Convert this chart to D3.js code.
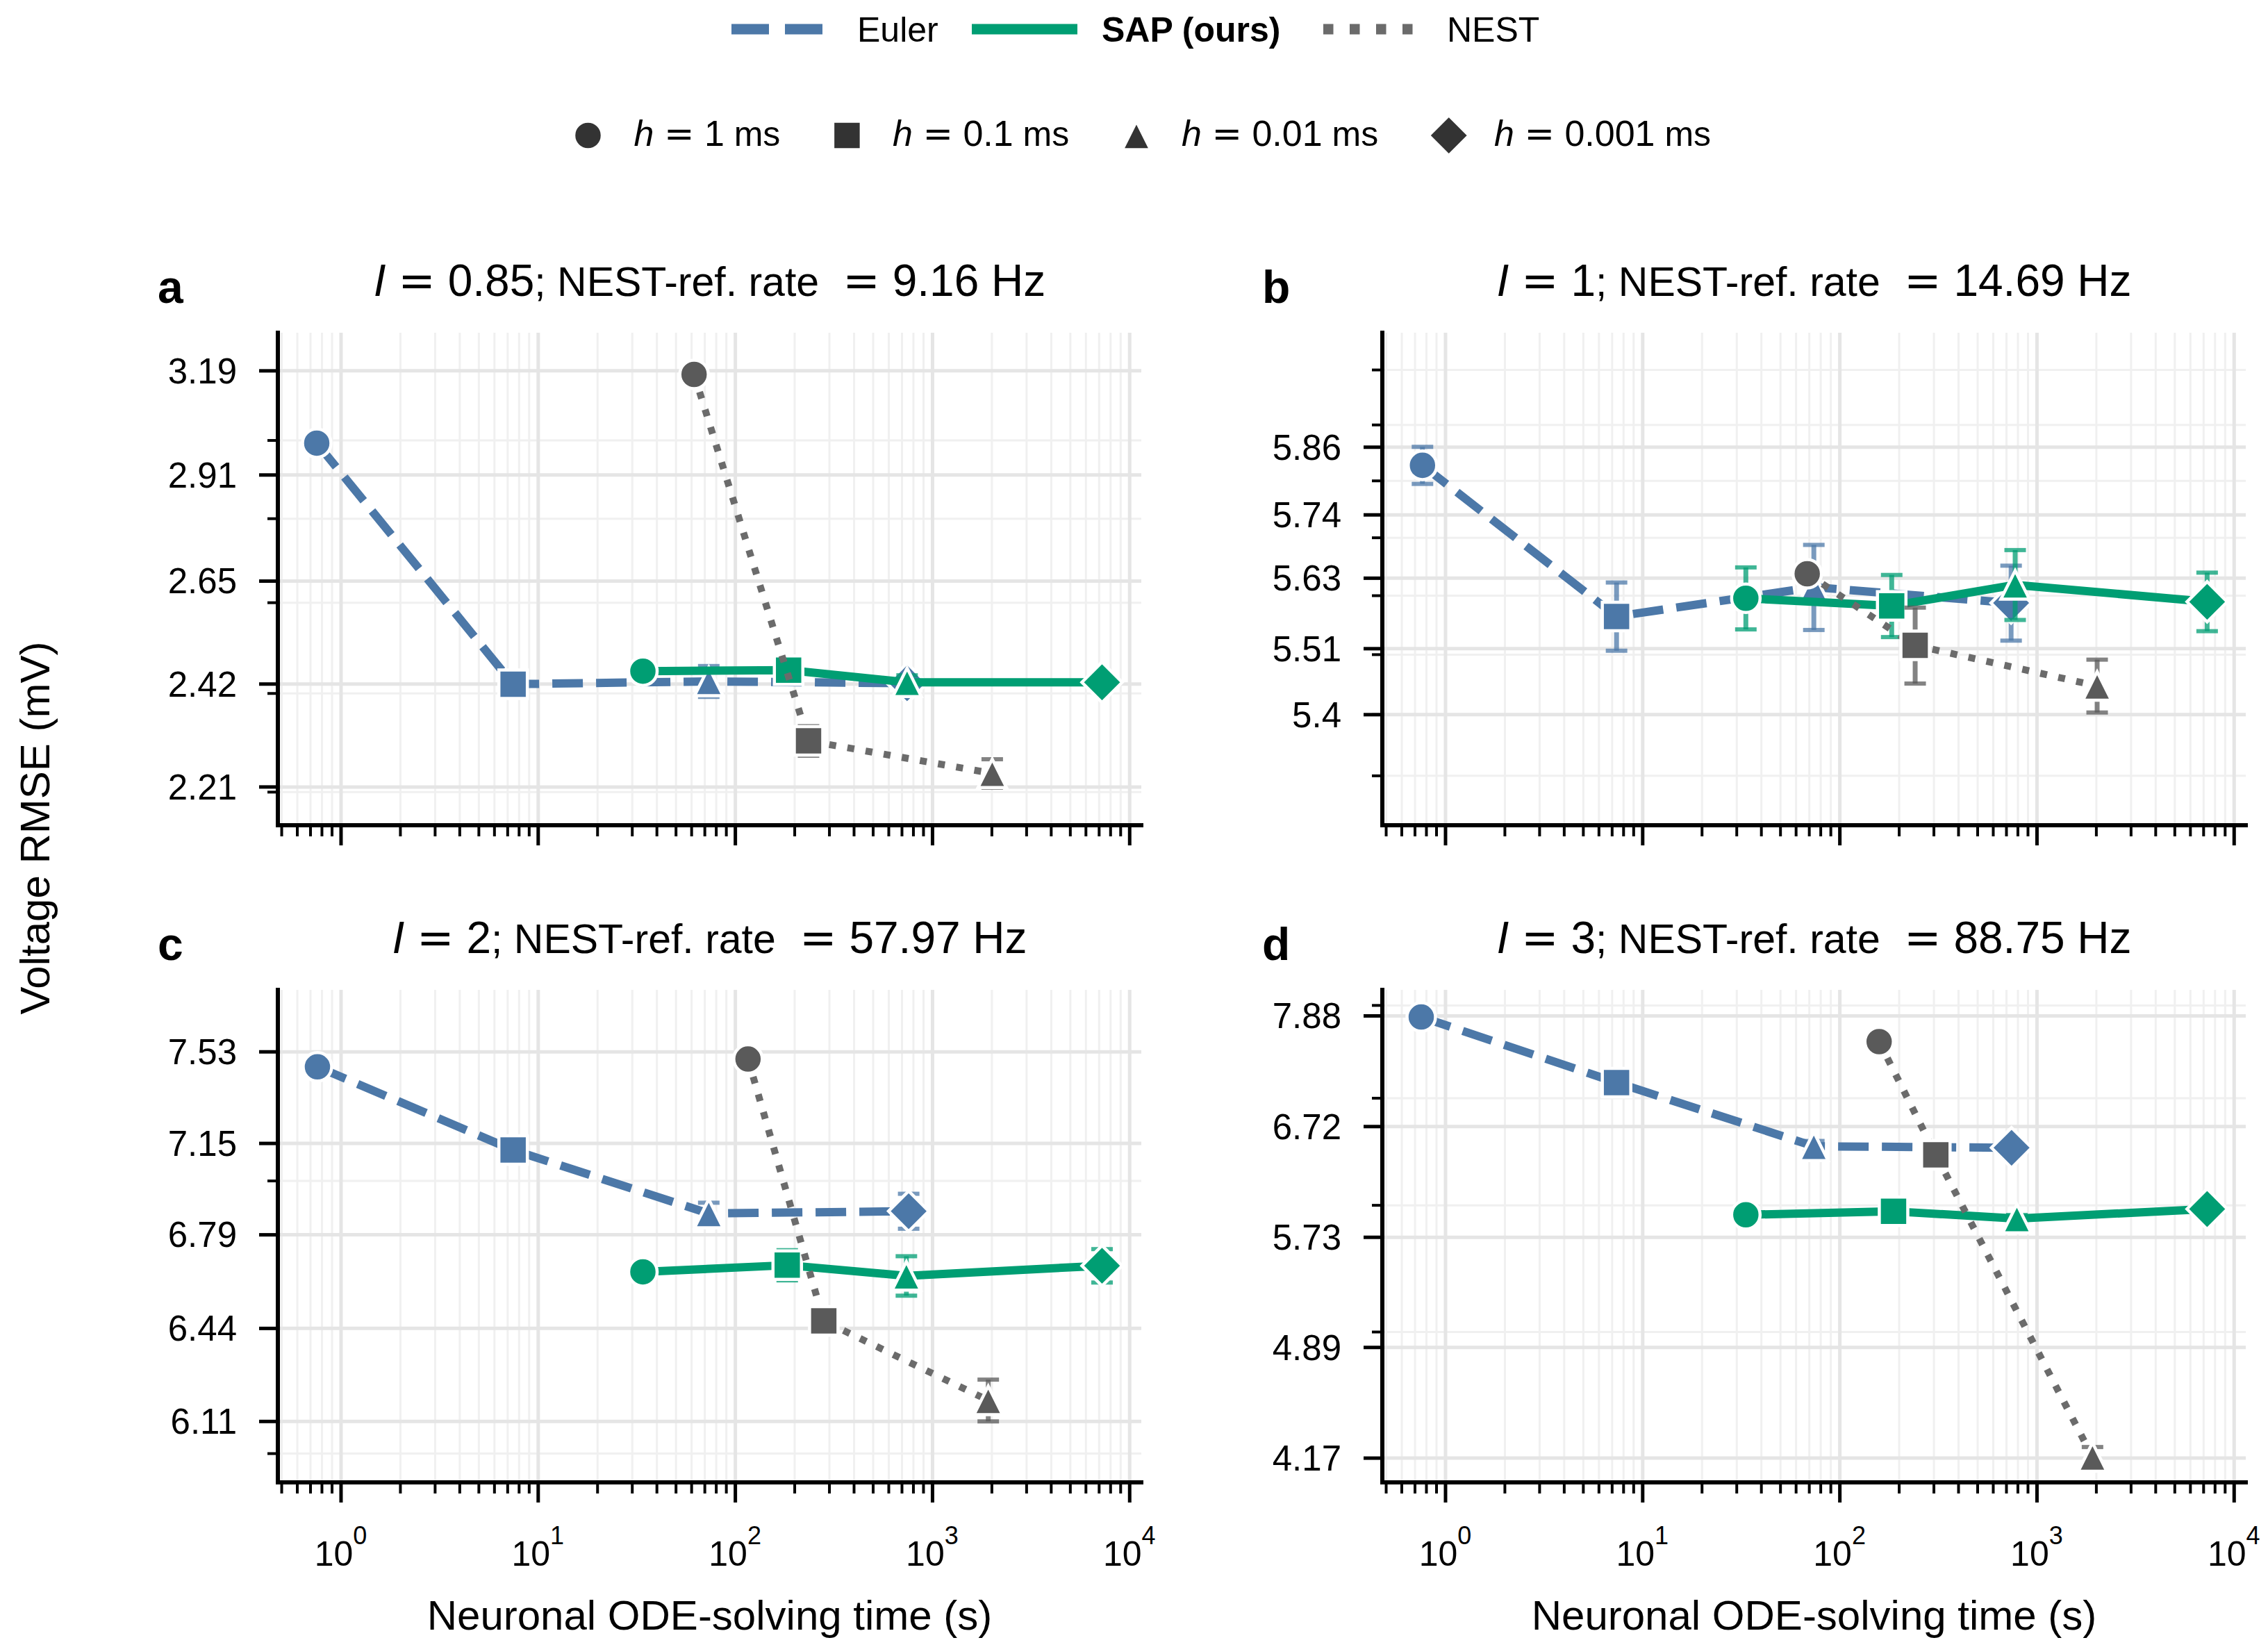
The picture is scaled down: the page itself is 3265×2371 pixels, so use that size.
<!DOCTYPE html>
<html lang="en">
<head>
<meta charset="UTF-8">
<title>Voltage RMSE vs neuronal ODE-solving time</title>
<script src="https://d3js.org/d3.v7.min.js"></script>
<style>
  html, body { margin: 0; padding: 0; background: #fff; }
  svg { display: block; background: #fff; }
  text { font-family: "Liberation Sans", Arial, sans-serif; fill: #000; }
  .grid path, .axis path { display: none; }
  .grid.major line { stroke: #e5e5e5; stroke-width: 5; }
  .grid.minor line { stroke: #f0f0f0; stroke-width: 3; }
  .axis line { stroke: #000; }
</style>
</head>
<body>
<div id="chart"></div>
<script>
// ---- values ----
const panelLetters = ["a", "b", "c", "d"];
const inputCurrents = ["0.85", "1", "2", "3"];
const nestRefRates = ["9.16", "14.69", "57.97", "88.75"];
const methodNames = ["Euler", "SAP (ours)", "NEST"];
const stepSizes = ["1", "0.1", "0.01", "0.001"];

// rows: Euler, SAP, NEST ; columns: h = 1, 0.1, 0.01, 0.001 ms
const timeA = [[0.756, 7.49, 73.6, 746], [34.1, 187, 746, 7271], [62.0, 236, 2017]];
const rmseA = [[2.992, 2.419, 2.425, 2.421], [2.447, 2.449, 2.423, 2.423], [3.179, 2.301, 2.236]];
const errA  = [[0.01, 0.01, 0.033, 0.02], [0.005, 0.01, 0.015, 0.01], [0, 0.03, 0.028]];

const timeB = [[0.767, 7.40, 74.1, 742], [33.5, 184, 778, 7324], [68.6, 242, 2027]];
const rmseB = [[5.827, 5.564, 5.614, 5.587], [5.595, 5.582, 5.618, 5.589], [5.637, 5.515, 5.447]];
const errB  = [[0.033, 0.058, 0.073, 0.064], [0.053, 0.053, 0.060, 0.050], [0, 0.064, 0.044]];

const timeC = [[0.762, 7.49, 73.6, 760], [34.1, 184, 740, 7271], [116.4, 282, 1925]];
const rmseC = [[7.465, 7.122, 6.871, 6.880], [6.648, 6.673, 6.633, 6.671], [7.498, 6.466, 6.182]];
const errC  = [[0.03, 0.02, 0.042, 0.068], [0.02, 0.057, 0.074, 0.063], [0, 0.02, 0.073]];

const timeD = [[0.756, 7.40, 74.1, 746], [33.5, 188, 794, 7324], [158.9, 308, 1920]];
const rmseD = [[7.864, 7.156, 6.529, 6.515], [5.916, 5.945, 5.884, 5.965], [7.590, 6.449, 4.175]];
const errD  = [[0.02, 0.02, 0.05, 0.04], [0.02, 0.03, 0.03, 0.02], [0, 0.02, 0.06]];

// axis ticks and limits
const xLim = [0.48, 11500];
const xMajor = [1, 10, 100, 1000, 10000];
const yTicksA = [2.21, 2.42, 2.65, 2.91, 3.19];
const yTicksB = [5.4, 5.51, 5.63, 5.74, 5.86];
const yTicksC = [6.11, 6.44, 6.79, 7.15, 7.53];
const yTicksD = [4.17, 4.89, 5.73, 6.72, 7.88];
const yMinorA = [2.2, 2.4, 2.6, 2.8, 3.0];
const yMinorB = [5.3, 5.4, 5.5, 5.6, 5.7, 5.8, 5.9, 6.0];
const yMinorC = [6, 7];
const yMinorD = [5, 6, 7, 8];
const yLimA = [2.136, 3.298];
const yLimB = [5.220, 6.068];
const yLimC = [5.902, 7.797];
const yLimD = [4.025, 8.177];

// ---- layout ----
const W = 3265, H = 2371;
const pw = 1243, ph = 709;
const origins = [[400, 479], [1990, 479], [400, 1425], [1990, 1425]];
const colors = ["#4c78a8", "#009e73", "#5a5a5a"];
const lineColors = ["#4c78a8", "#009e73", "#6b6b6b"];
const dashes = ["44,19", null, "10,16.5"];
const lineWidths = [12, 12, 10];
const ms = 41;

const panels = [0, 1, 2, 3].map(i => ({
  letter: panelLetters[i],
  current: inputCurrents[i],
  rate: nestRefRates[i],
  time: [timeA, timeB, timeC, timeD][i],
  rmse: [rmseA, rmseB, rmseC, rmseD][i],
  err: [errA, errB, errC, errD][i],
  yTicks: [yTicksA, yTicksB, yTicksC, yTicksD][i],
  yMinor: [yMinorA, yMinorB, yMinorC, yMinorD][i],
  yLim: [yLimA, yLimB, yLimC, yLimD][i],
  origin: origins[i],
  xLabels: i >= 2
}));

const xMinor = [];
for (let e = -1; e <= 4; e++) {
  for (let k = 2; k <= 9; k++) {
    const v = k * Math.pow(10, e);
    if (v >= xLim[0] && v <= xLim[1]) xMinor.push(v);
  }
}

// matplotlib-like marker shapes: o, s, ^, D
function markerPath(k, s) {
  const r = s / 2;
  if (k === 0) return `M${r},0A${r},${r},0,1,1,${-r},0A${r},${r},0,1,1,${r},0Z`;
  if (k === 1) return `M${-r},${-r}H${r}V${r}H${-r}Z`;
  if (k === 2) return `M0,${-r}L${r},${r}L${-r},${r}Z`;
  const d = s / Math.SQRT2;
  return `M0,${-d}L${d},0L0,${d}L${-d},0Z`;
}

// text from pieces: mi = math italic, m = math, eq = math symbol, t = plain
function richText(sel, parts, mathSize) {
  parts.forEach(([str, kind]) => {
    const ts = sel.append("tspan").text(str);
    if (kind !== "t") ts.attr("font-size", mathSize);
    if (kind === "mi") ts.attr("font-style", "italic");
    if (kind === "eq") ts.attr("font-family", "DejaVu Sans");
  });
}

const svg = d3.select("#chart").append("svg")
  .attr("width", W)
  .attr("height", H);

panels.forEach(p => {
  const [ox, oy] = p.origin;
  const x = d3.scaleLog().domain(xLim).range([0, pw]);
  const y = d3.scaleLog().domain(p.yLim).range([ph, 0]);
  const g = svg.append("g").attr("transform", `translate(${ox},${oy})`);

  // grid
  g.append("g").attr("class", "grid minor").attr("transform", `translate(0,${ph})`)
    .call(d3.axisBottom(x).tickValues(xMinor).tickSize(-ph).tickFormat(""));
  g.append("g").attr("class", "grid minor")
    .call(d3.axisLeft(y).tickValues(p.yMinor).tickSize(-pw).tickFormat(""));
  g.append("g").attr("class", "grid major").attr("transform", `translate(0,${ph})`)
    .call(d3.axisBottom(x).tickValues(xMajor).tickSize(-ph).tickFormat(""));
  g.append("g").attr("class", "grid major")
    .call(d3.axisLeft(y).tickValues(p.yTicks).tickSize(-pw).tickFormat(""));

  // series
  methodNames.forEach((name, m) => {
    const pts = p.time[m].map((t, i) => ({ t, v: p.rmse[m][i], e: p.err[m][i], k: i }));
    const withErr = pts.filter(d => d.e > 0);

    const eb = g.append("g")
      .attr("stroke", colors[m])
      .attr("stroke-opacity", 0.75);
    eb.selectAll(".bar").data(withErr).join("line")
      .attr("class", "bar")
      .attr("x1", d => x(d.t)).attr("x2", d => x(d.t))
      .attr("y1", d => y(d.v - d.e)).attr("y2", d => y(d.v + d.e))
      .attr("stroke-width", 7);
    [-1, 1].forEach(sgn => {
      eb.selectAll(null).data(withErr).join("line")
        .attr("x1", d => x(d.t) - 15.5).attr("x2", d => x(d.t) + 15.5)
        .attr("y1", d => y(d.v + sgn * d.e)).attr("y2", d => y(d.v + sgn * d.e))
        .attr("stroke-width", 6);
    });

    g.append("path").datum(pts)
      .attr("d", d3.line().x(d => x(d.t)).y(d => y(d.v)))
      .attr("fill", "none")
      .attr("stroke", lineColors[m])
      .attr("stroke-width", lineWidths[m])
      .attr("stroke-dasharray", dashes[m])
      .attr("stroke-linejoin", "round");

    g.selectAll(null).data(pts).join("path")
      .attr("transform", d => `translate(${x(d.t)},${y(d.v)})`)
      .attr("d", d => markerPath(d.k, ms))
      .attr("fill", colors[m])
      .attr("stroke", "#fff")
      .attr("stroke-width", 4.5)
      .attr("stroke-linejoin", "miter");
  });

  // ticks
  const xMin = g.append("g").attr("class", "axis").attr("transform", `translate(0,${ph})`)
    .call(d3.axisBottom(x).tickValues(xMinor).tickSize(16).tickFormat(""));
  xMin.selectAll("line").attr("stroke-width", 4);
  const xMaj = g.append("g").attr("class", "axis").attr("transform", `translate(0,${ph})`)
    .call(d3.axisBottom(x).tickValues(xMajor).tickSize(29).tickFormat(""));
  xMaj.selectAll("line").attr("stroke-width", 5);
  const yMin = g.append("g").attr("class", "axis")
    .call(d3.axisLeft(y).tickValues(p.yMinor).tickSize(15).tickFormat(""));
  yMin.selectAll("line").attr("stroke-width", 4);
  const yMaj = g.append("g").attr("class", "axis")
    .call(d3.axisLeft(y).tickValues(p.yTicks).tickSize(27).tickFormat(""));
  yMaj.selectAll("line").attr("stroke-width", 5);

  // spines
  g.append("path")
    .attr("d", `M0,0V${ph}H${pw}`)
    .attr("fill", "none")
    .attr("stroke", "#000")
    .attr("stroke-width", 6)
    .attr("stroke-linecap", "square");

  // y tick labels
  g.selectAll(null).data(p.yTicks).join("text")
    .attr("x", -59)
    .attr("y", d => y(d))
    .attr("dy", "0.36em")
    .attr("text-anchor", "end")
    .attr("font-size", 51)
    .text(d => String(d));

  // x tick labels (bottom row only)
  if (p.xLabels) {
    xMajor.forEach(v => {
      const t = g.append("text")
        .attr("x", x(v))
        .attr("y", ph + 120)
        .attr("text-anchor", "middle")
        .attr("font-size", 50);
      t.append("tspan").text("10");
      t.append("tspan").attr("dy", -31).attr("font-size", 36).text(String(Math.round(Math.log10(v))));
    });
    g.append("text")
      .attr("x", pw / 2)
      .attr("y", ph + 212)
      .attr("text-anchor", "middle")
      .attr("font-size", 60)
      .text("Neuronal ODE-solving time (s)");
  }

  // title and panel letter
  const title = g.append("text")
    .attr("x", pw / 2)
    .attr("y", -53)
    .attr("text-anchor", "middle")
    .attr("font-size", 59);
  richText(title, [
    ["I", "mi"],
    ["\u00a0", "m"],
    ["=", "eq"],
    ["\u00a0" + p.current, "m"],
    ["; NEST-ref. rate\u00a0", "t"],
    ["\u00a0", "m"],
    ["=", "eq"],
    ["\u00a0" + p.rate, "m"],
    ["\u00a0Hz", "m"]
  ], 64);

  g.append("text")
    .attr("x", (ox < 1000 ? 227 : 1817) - ox)
    .attr("y", -43)
    .attr("font-size", 66)
    .attr("font-weight", "bold")
    .text(p.letter);
});

// shared y label
svg.append("text")
  .attr("transform", "translate(71,1192) rotate(-90)")
  .attr("text-anchor", "middle")
  .attr("font-size", 60)
  .text("Voltage RMSE (mV)");

// ---- legends ----
const leg = svg.append("g");
const lineStarts = [1053, 1399, 1905];
const lineTextX = [1234, 1586, 2083];
methodNames.forEach((name, m) => {
  leg.append("line")
    .attr("x1", lineStarts[m]).attr("x2", lineStarts[m] + 152)
    .attr("y1", 42).attr("y2", 42)
    .attr("stroke", lineColors[m])
    .attr("stroke-width", 15)
    .attr("stroke-dasharray", m === 0 ? "54,23" : m === 2 ? "14.5,23.5" : null);
  leg.append("text")
    .attr("x", lineTextX[m])
    .attr("y", 60)
    .attr("font-size", 50)
    .attr("font-weight", m === 1 ? "bold" : "normal")
    .text(name);
});

const markerX = [846.5, 1219.4, 1636, 2085.7];
const markerTextX = [912.5, 1285, 1701, 2151];
stepSizes.forEach((h, k) => {
  leg.append("path")
    .attr("transform", `translate(${markerX[k]},195)`)
    .attr("d", markerPath(k, ms))
    .attr("fill", "#333")
    .attr("stroke", "#fff")
    .attr("stroke-width", 4.5);
  const t = leg.append("text")
    .attr("x", markerTextX[k])
    .attr("y", 210)
    .attr("font-size", 50);
  richText(t, [["h", "mi"], ["\u00a0", "m"], ["=", "eq"], ["\u00a0" + h, "m"], ["\u00a0ms", "t"]], 52);
});
</script>
</body>
</html>
